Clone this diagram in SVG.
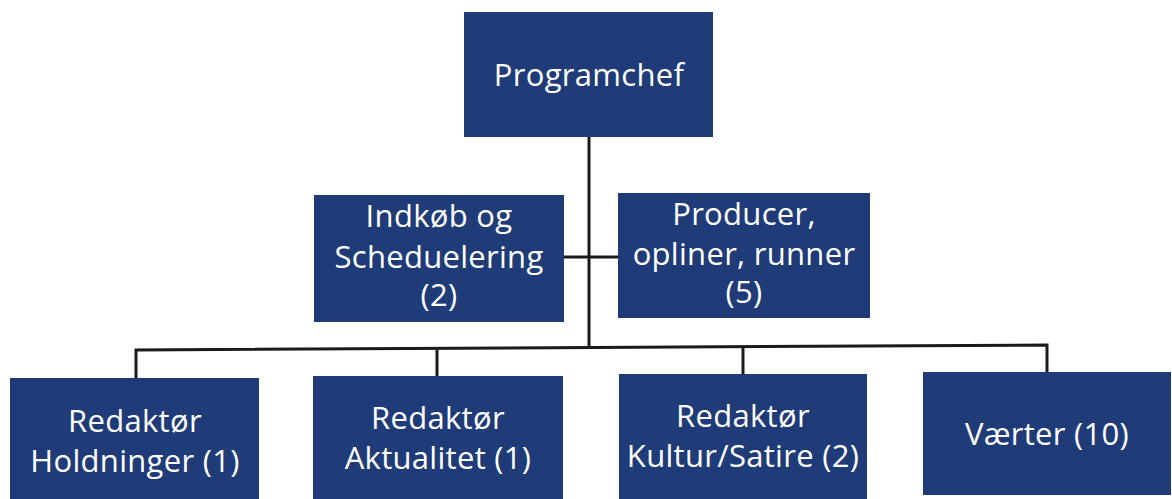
<svg xmlns="http://www.w3.org/2000/svg" width="1172" height="499" viewBox="0 0 1172 499">
<style>
.box{fill:#1f3c78;}
.lbl{font-family:"Open Sans","Liberation Sans",sans-serif;font-size:31px;fill:#ffffff;text-anchor:middle;letter-spacing:0.3px;}
.ln{stroke:#1a1a1a;stroke-width:3;fill:none;}
</style>
<rect width="1172" height="499" fill="#ffffff"/>
<g id="connectors">
<path class="ln" d="M589,137 V349"/>
<path class="ln" d="M564,257 H618"/>
<path class="ln" d="M136,378 V350 L1047,345 V372"/>
<path class="ln" d="M437,350 V376"/>
<path class="ln" d="M743,347 V374"/>
</g>
<g id="programchef">
<rect class="box" x="464" y="12" width="249" height="125"/>
<text class="lbl" x="589" y="86">Programchef</text>
</g>
<g id="indkob">
<rect class="box" x="314" y="195" width="250" height="127"/>
<text class="lbl" x="439" y="227">Indkøb og</text>
<text class="lbl" x="439" y="268">Scheduelering</text>
<text class="lbl" x="439" y="306">(2)</text>
</g>
<g id="producer">
<rect class="box" x="618" y="193" width="252" height="125"/>
<text class="lbl" x="744" y="225">Producer,</text>
<text class="lbl" x="744" y="265">opliner, runner</text>
<text class="lbl" x="744" y="303">(5)</text>
</g>
<g id="holdninger">
<rect class="box" x="10" y="378" width="249" height="130"/>
<text class="lbl" x="135" y="432">Redaktør</text>
<text class="lbl" x="135" y="472">Holdninger (1)</text>
</g>
<g id="aktualitet">
<rect class="box" x="313" y="376" width="250" height="130"/>
<text class="lbl" x="438" y="429">Redaktør</text>
<text class="lbl" x="438" y="469">Aktualitet (1)</text>
</g>
<g id="kultur">
<rect class="box" x="619" y="374" width="248" height="130"/>
<text class="lbl" x="743" y="427">Redaktør</text>
<text class="lbl" x="743" y="467">Kultur/Satire (2)</text>
</g>
<g id="vaerter">
<rect class="box" x="923" y="372" width="248" height="123"/>
<text class="lbl" x="1047" y="445">Værter (10)</text>
</g>
</svg>
